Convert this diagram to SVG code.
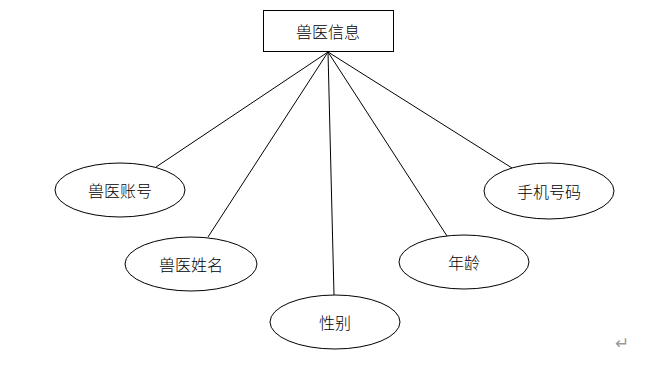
<svg xmlns="http://www.w3.org/2000/svg" width="669" height="369" viewBox="0 0 669 369">
<style>
.s{fill:#fff;stroke:#000;stroke-width:1}
.t{font-family:"Noto Sans CJK SC","Liberation Sans",sans-serif;font-size:16px;font-weight:300;fill:#000;text-anchor:middle;dominant-baseline:central}
.c line{stroke:#000;stroke-width:1}
</style>
<rect width="669" height="369" fill="#fff"/>
<g class="c" id="connectors">
<line x1="328" y1="52" x2="156" y2="167"/>
<line x1="328" y1="52" x2="208" y2="237"/>
<line x1="328" y1="52" x2="334" y2="295"/>
<line x1="328" y1="52" x2="447" y2="236"/>
<line x1="328" y1="52" x2="512" y2="168"/>
</g>
<g id="root"><rect class="s" x="263.5" y="10.5" width="130" height="41"/><text class="t" x="328" y="31">兽医信息</text></g>
<g id="n1"><ellipse class="s" cx="120" cy="190" rx="65" ry="27"/><text class="t" x="120" y="190">兽医账号</text></g>
<g id="n2"><ellipse class="s" cx="191" cy="264" rx="66" ry="27"/><text class="t" x="191" y="264">兽医姓名</text></g>
<g id="n3"><ellipse class="s" cx="335" cy="322" rx="65" ry="27"/><text class="t" x="335" y="322">性别</text></g>
<g id="n4"><ellipse class="s" cx="464" cy="262" rx="65" ry="27"/><text class="t" x="464" y="262">年龄</text></g>
<g id="n5"><ellipse class="s" cx="549" cy="191" rx="65" ry="28"/><text class="t" x="549" y="191">手机号码</text></g>
<text x="622" y="343" font-family="DejaVu Sans,sans-serif" font-size="17" fill="#999" text-anchor="middle" dominant-baseline="central">↵</text>
</svg>
